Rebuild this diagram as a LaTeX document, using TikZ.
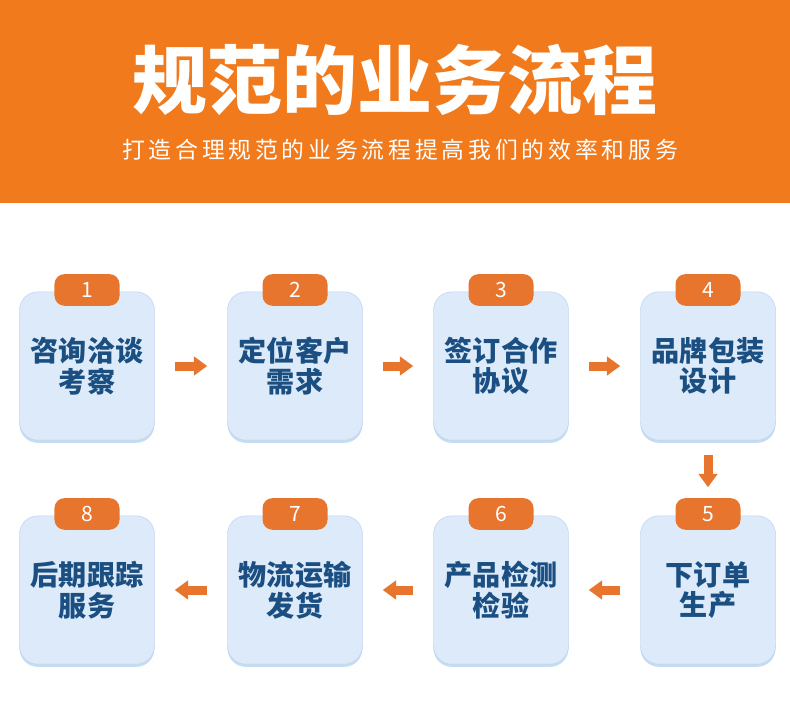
\documentclass[tikz,border=0pt]{standalone}
\usepackage{fontspec}
\setmainfont{Noto Sans CJK SC}
\usetikzlibrary{shadows,arrows.meta}
\definecolor{headorange}{HTML}{F07A1C}
\definecolor{badgeorange}{HTML}{E8752E}
\definecolor{boxblue}{HTML}{DCEAF9}
\definecolor{edgeblue}{HTML}{B9D3EE}
\definecolor{textblue}{HTML}{1B4F82}
\begin{document}
\begin{tikzpicture}[x=0.03cm, y=-0.03cm,
    step box/.style = {draw=edgeblue, fill=boxblue, rounded corners=0.55cm, minimum width=4.05cm, minimum height=4.45cm, text=textblue, font=\bfseries\fontsize{24}{26}\selectfont, align=center, drop shadow={shadow xshift=0pt, shadow yshift=-0.08cm, fill=edgeblue, opacity=0.8}},
    badge/.style = {fill=badgeorange, rounded corners=0.3cm, minimum width=1.95cm, minimum height=0.95cm, text=white, font=\fontsize{18}{20}\selectfont},
    flow/.style = {draw=badgeorange, line width=0.27cm, -{Triangle[length=0.4cm, width=0.55cm]}, shorten <=0.6cm, shorten >=0.6cm}]

    \useasboundingbox (0,0) rectangle (790,724);
    \fill[headorange] (0,0) rectangle (790,203);

    % Header
    \node[text=white, font=\bfseries\fontsize{64}{68}\selectfont] (title) at (395,80) {规范的业务流程};
    \node[text=white, font=\fontsize{19.5}{22}\selectfont] (sub) at (400,150) {打\,造\,合\,理\,规\,范\,的\,业\,务\,流\,程\,提\,高\,我\,们\,的\,效\,率\,和\,服\,务};

    % Steps
    \node[step box] (b1) at (87,366) {咨询洽谈\\考察};
    \node[step box] (b2) at (295,366) {定位客户\\需求};
    \node[step box] (b3) at (501,366) {签订合作\\协议};
    \node[step box] (b4) at (708,366) {品牌包装\\设计};
    \node[step box] (b5) at (708,590) {下订单\\生产};
    \node[step box] (b6) at (501,590) {产品检测\\检验};
    \node[step box] (b7) at (295,590) {物流运输\\发货};
    \node[step box] (b8) at (87,590) {后期跟踪\\服务};

    % Badges
    \foreach \i in {1,...,8}
        \node[badge] (n\i) at ([yshift=0.05cm]b\i.north) {\i};

    % Arrows
    \draw[flow] (b1) -- (b2);
    \draw[flow] (b2) -- (b3);
    \draw[flow] (b3) -- (b4);
    \draw[flow, shorten <=0.45cm, shorten >=0.85cm] (b4) -- (b5);
    \draw[flow] (b5) -- (b6);
    \draw[flow] (b6) -- (b7);
    \draw[flow] (b7) -- (b8);
\end{tikzpicture}
\end{document}
